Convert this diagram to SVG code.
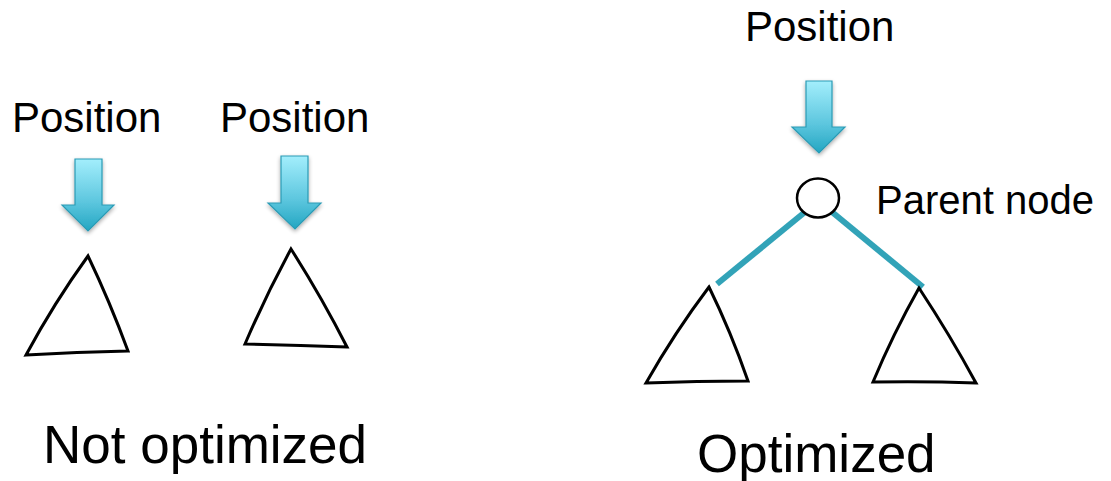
<svg xmlns="http://www.w3.org/2000/svg" width="1111" height="481" viewBox="0 0 1111 481">
<defs>
<linearGradient id="ag" x1="0" y1="0" x2="0" y2="1">
<stop offset="0" stop-color="#a3eefc"/>
<stop offset="0.6" stop-color="#5cc6de"/>
<stop offset="1" stop-color="#23a6c2"/>
</linearGradient>
<filter id="sh" x="-30%" y="-30%" width="160%" height="160%">
<feGaussianBlur in="SourceAlpha" stdDeviation="2"/>
<feOffset dx="0" dy="2"/>
<feComponentTransfer><feFuncA type="linear" slope="0.35"/></feComponentTransfer>
<feMerge><feMergeNode/><feMergeNode in="SourceGraphic"/></feMerge>
</filter>
</defs>
<style>
.t{font-family:"Liberation Sans",Arial,sans-serif;fill:#000}
.arrow{fill:url(#ag);stroke:#2b9bb5;stroke-width:1.2;filter:url(#sh)}
.tri{fill:#fff;stroke:#000;stroke-width:3;stroke-linejoin:miter}
.edge{stroke:#32a3b8;stroke-width:6;fill:none}
</style>
<rect width="1111" height="481" fill="#fff"/>

<g id="left-pos-label"><text class="t" x="12" y="132" font-size="42">Position</text></g>
<g id="left-arrow"><path class="arrow" d="M75,159 H102 V205 H114 L88,231 L62,205 H75 Z"/></g>
<g id="left-tree"><path class="tri" d="M88,256 Q110,302 128,351 Q77,352 26,355 Q54,303 88,256 Z"/></g>

<g id="mid-pos-label"><text class="t" x="220" y="132" font-size="42">Position</text></g>
<g id="mid-arrow"><path class="arrow" d="M281,156 H308 V203 H321 L295,229 L268,203 H281 Z"/></g>
<g id="mid-tree"><path class="tri" d="M291,249 Q321,296 347,347 Q296,345 245,344 Q266,295 291,249 Z"/></g>

<g id="top-pos-label"><text class="t" x="745" y="41" font-size="42">Position</text></g>
<g id="top-arrow"><path class="arrow" d="M806,81 H832 V127 H845 L819,153 L792,127 H806 Z"/></g>

<g id="connectors">
<line class="edge" x1="805" y1="212" x2="717" y2="284"/>
<line class="edge" x1="832" y1="212" x2="923" y2="287"/>
</g>

<g id="parent-node"><ellipse cx="818" cy="198" rx="21" ry="19.5" fill="#fff" stroke="#000" stroke-width="2.5"/></g>
<g id="parent-label"><text class="t" x="876" y="214" font-size="40">Parent node</text></g>

<g id="left-subtree"><path class="tri" d="M709,287 Q731,332 748,381 Q697,381 646,383 Q675,332 709,287 Z"/></g>
<g id="right-subtree"><path class="tri" d="M919,288 Q950,335 976,383 Q925,381 873,382 Q893,334 919,288 Z"/></g>

<g id="caption-left"><text class="t" x="43" y="463" font-size="53">Not optimized</text></g>
<g id="caption-right"><text class="t" x="697" y="472" font-size="53">Optimized</text></g>
</svg>
